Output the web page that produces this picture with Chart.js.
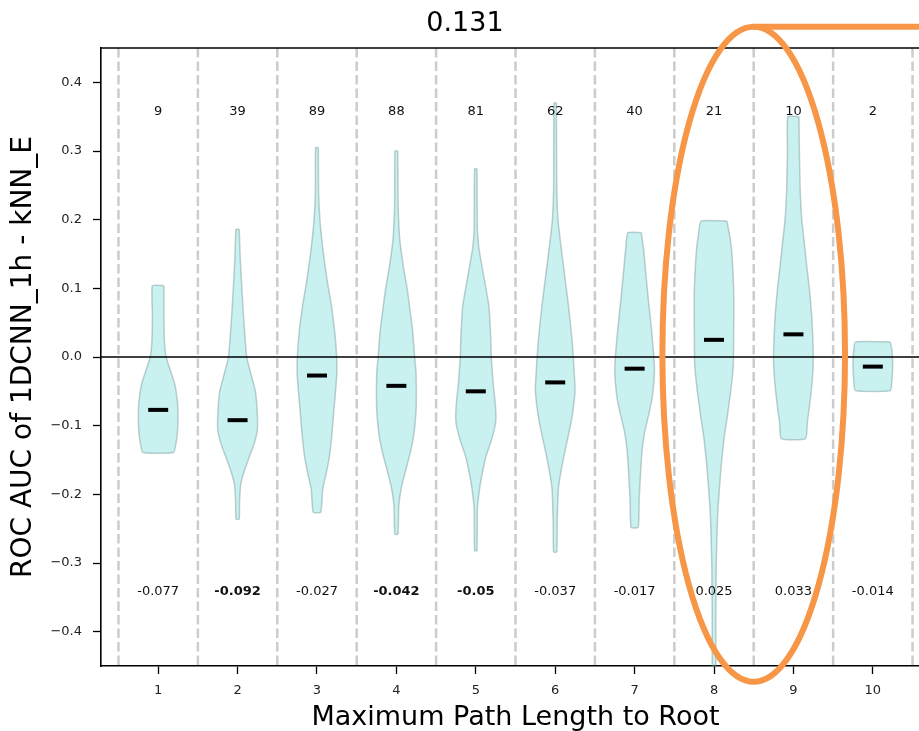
<!DOCTYPE html>
<html>
<head>
<meta charset="utf-8">
<script src="https://cdn.jsdelivr.net/npm/chart.js@4/dist/chart.umd.min.js"></script>
<style>
    html, body { margin: 0; padding: 0; background: #fff; overflow: hidden; }
    #wrap { width: 950px; height: 731px; }
</style>
</head>
<body>
<div id="wrap"><canvas id="violinChart" width="950" height="731"></canvas></div>
<script>
// Categories (max path length to root) and per-group numbers
const categories = [1, 2, 3, 4, 5, 6, 7, 8, 9, 10];
const counts = [9, 39, 89, 88, 81, 62, 40, 21, 10, 2];
const medians = [-0.077, -0.092, -0.027, -0.042, -0.050, -0.037, -0.017, 0.025, 0.033, -0.014];
const medianLabels = ['-0.077', '-0.092', '-0.027', '-0.042', '-0.05', '-0.037', '-0.017', '0.025', '0.033', '-0.014'];
const boldLabels = [false, true, false, true, true, false, false, false, false, false];
const yTicks = [-0.4, -0.3, -0.2, -0.1, 0.0, 0.1, 0.2, 0.3, 0.4];
const separators = [0.5, 1.5, 2.5, 3.5, 4.5, 5.5, 6.5, 7.5, 8.5, 9.5, 10.5];

// Violin outlines: [value, relative half width] read top to bottom
const violin1 = [[0.104, 0.29], [0.06, 0.29], [0.02, 0.32], [0.0, 0.40], [-0.02, 0.62], [-0.04, 0.84], [-0.065, 0.97], [-0.09, 1.0], [-0.11, 0.97], [-0.125, 0.9], [-0.139, 0.77]];
const violin2 = [[0.186, 0.08], [0.14, 0.14], [0.098, 0.22], [0.05, 0.32], [0.0, 0.46], [-0.03, 0.72], [-0.05, 0.9], [-0.08, 0.99], [-0.105, 1.0], [-0.125, 0.85], [-0.145, 0.6], [-0.165, 0.35], [-0.185, 0.16], [-0.21, 0.1], [-0.236, 0.08]];
const violin3 = [[0.305, 0.07], [0.24, 0.08], [0.195, 0.16], [0.147, 0.34], [0.11, 0.52], [0.074, 0.73], [0.035, 0.9], [0.0, 0.99], [-0.022, 1.0], [-0.045, 0.95], [-0.071, 0.87], [-0.11, 0.76], [-0.144, 0.63], [-0.17, 0.46], [-0.192, 0.29], [-0.226, 0.19]];
const violin4 = [[0.30, 0.07], [0.22, 0.09], [0.171, 0.17], [0.13, 0.36], [0.098, 0.55], [0.04, 0.81], [0.0, 0.92], [-0.023, 0.99], [-0.071, 1.0], [-0.1, 0.93], [-0.12, 0.84], [-0.145, 0.65], [-0.168, 0.44], [-0.19, 0.25], [-0.217, 0.12], [-0.258, 0.08]];
const violin5 = [[0.274, 0.06], [0.186, 0.08], [0.16, 0.15], [0.137, 0.28], [0.105, 0.48], [0.074, 0.66], [0.03, 0.75], [0.0, 0.78], [-0.04, 0.88], [-0.071, 0.99], [-0.095, 1.0], [-0.12, 0.8], [-0.144, 0.52], [-0.17, 0.32], [-0.192, 0.19], [-0.222, 0.08], [-0.282, 0.06]];
const violin6 = [[0.37, 0.06], [0.244, 0.08], [0.2, 0.14], [0.171, 0.25], [0.12, 0.47], [0.074, 0.67], [0.03, 0.83], [0.0, 0.91], [-0.047, 1.0], [-0.07, 0.93], [-0.095, 0.8], [-0.12, 0.62], [-0.144, 0.44], [-0.17, 0.27], [-0.192, 0.16], [-0.241, 0.1], [-0.284, 0.08]];
const violin7 = [[0.181, 0.34], [0.157, 0.45], [0.12, 0.57], [0.084, 0.69], [0.04, 0.85], [0.011, 0.94], [-0.018, 1.0], [-0.04, 0.96], [-0.062, 0.87], [-0.085, 0.7], [-0.11, 0.5], [-0.135, 0.38], [-0.159, 0.32], [-0.207, 0.23], [-0.248, 0.18]];
const violin8 = [[0.198, 0.65], [0.175, 0.8], [0.157, 0.88], [0.12, 0.96], [0.084, 1.0], [0.03, 0.99], [-0.013, 0.97], [-0.05, 0.84], [-0.086, 0.67], [-0.12, 0.5], [-0.159, 0.36], [-0.2, 0.25], [-0.231, 0.18], [-0.304, 0.11], [-0.38, 0.09], [-0.46, 0.08]];
const violin9 = [[0.35, 0.28], [0.3, 0.3], [0.244, 0.34], [0.2, 0.42], [0.171, 0.53], [0.13, 0.68], [0.098, 0.81], [0.06, 0.92], [0.026, 0.98], [-0.008, 1.0], [-0.04, 0.93], [-0.071, 0.81], [-0.095, 0.7], [-0.119, 0.61]];
const violin10 = [[0.022, 0.88], [0.01, 0.96], [-0.013, 1.0], [-0.035, 0.96], [-0.049, 0.88]];
const violins = [violin1, violin2, violin3, violin4, violin5, violin6, violin7, violin8, violin9, violin10];

const FONT = '"DejaVu Sans", sans-serif';
const HALF_WIDTH = 0.25;   // widest half of a violin, in x units
const VIOLIN_FILL = 'rgba(72, 209, 204, 0.3)';
const VIOLIN_EDGE = 'rgba(120, 150, 150, 0.45)';
const ORANGE = '#f79646';
// highlight ring around groups 8 and 9 (x, y centre and radii in data units)
const ring = { x: 8.5, y: 0.004, rx: 1.15, ry: 0.477 };

Chart.defaults.font.family = FONT;

function violinDataset(profile, cx) {
    const right = profile.map(([v, r]) => ({ x: cx + r * HALF_WIDTH, y: v }));
    const left = profile.slice().reverse().map(([v, r]) => ({ x: cx - r * HALF_WIDTH, y: v }));
    return {
        data: [...right, ...left, right[0]],
        showLine: true,
        fill: 'shape',
        backgroundColor: VIOLIN_FILL,
        borderColor: VIOLIN_EDGE,
        borderWidth: 1.5,
        pointRadius: 0,
        tension: 0.15,
        order: 1
    };
}

const datasets = violins.map((p, i) => violinDataset(p, categories[i]));
// median bars, drawn above the violins
datasets.push({
    data: medians.map((m, i) => ({ x: categories[i], y: m })),
    showLine: false,
    pointStyle: 'line',
    pointRadius: 10,
    pointBorderWidth: 4,
    pointBorderColor: '#000',
    pointBackgroundColor: '#000',
    order: 0
});

const decorPlugin = {
    id: 'decor',
    beforeDatasetsDraw(chart) {
        const { ctx, chartArea: a, scales: { x } } = chart;
        ctx.save();
        ctx.strokeStyle = '#cccccc';
        ctx.lineWidth = 2.5;
        ctx.setLineDash([9.5, 4]);
        separators.forEach(s => {
            const px = x.getPixelForValue(s);
            ctx.beginPath();
            ctx.moveTo(px, a.top);
            ctx.lineTo(px, a.bottom);
            ctx.stroke();
        });
        ctx.restore();
    },
    afterDatasetsDraw(chart) {
        const { ctx, chartArea: a, scales: { x, y } } = chart;
        ctx.save();
        // zero line and top spine
        ctx.strokeStyle = '#000';
        ctx.lineWidth = 1.6;
        const y0 = y.getPixelForValue(0);
        ctx.beginPath();
        ctx.moveTo(a.left, y0);
        ctx.lineTo(a.right, y0);
        ctx.moveTo(a.left, a.top);
        ctx.lineTo(a.right, a.top);
        ctx.stroke();

        // counts on top, medians at the bottom
        ctx.fillStyle = '#111';
        ctx.textAlign = 'center';
        ctx.textBaseline = 'middle';
        categories.forEach((c, i) => {
            const px = x.getPixelForValue(c);
            ctx.font = '13px ' + FONT;
            ctx.fillText(String(counts[i]), px, y.getPixelForValue(0.357));
            ctx.font = (boldLabels[i] ? 'bold ' : '') + '13px ' + FONT;
            ctx.fillText(medianLabels[i], px, y.getPixelForValue(-0.342));
        });
        ctx.restore();
    },
    afterDraw(chart) {
        const { ctx, scales: { x, y } } = chart;
        const cx = x.getPixelForValue(ring.x);
        const cy = y.getPixelForValue(ring.y);
        const rx = x.getPixelForValue(ring.x + ring.rx) - cx;
        const ry = cy - y.getPixelForValue(ring.y + ring.ry);
        ctx.save();
        ctx.strokeStyle = ORANGE;
        ctx.lineWidth = 6;
        ctx.beginPath();
        ctx.ellipse(cx, cy, rx, ry, 0, 0, Math.PI * 2);
        ctx.stroke();
        ctx.beginPath();
        ctx.moveTo(cx, cy - ry);
        ctx.lineTo(chart.width, cy - ry);
        ctx.stroke();
        ctx.restore();
    }
};

const ctx = document.getElementById('violinChart').getContext('2d');
new Chart(ctx, {
    type: 'scatter',
    data: { datasets: datasets },
    plugins: [decorPlugin],
    options: {
        responsive: false,
        animation: false,
        layout: { padding: { left: 0, right: 20, top: 0, bottom: 0 } },
        plugins: {
            legend: { display: false },
            tooltip: { enabled: false },
            title: {
                display: true,
                text: '0.131',
                color: '#000',
                font: { size: 27, weight: 'normal', lineHeight: 1 },
                padding: { top: 10.5, bottom: 10.5 }
            }
        },
        scales: {
            x: {
                type: 'linear',
                min: 0.28,
                max: 10.72,
                afterBuildTicks: s => { s.ticks = categories.map(v => ({ value: v })); },
                afterFit: s => { s.height = 65; },
                grid: { drawOnChartArea: false, tickLength: 8, tickColor: '#000', tickWidth: 1.3 },
                border: { color: '#000', width: 1.6 },
                ticks: {
                    color: '#222', padding: 9, maxRotation: 0, autoSkip: false,
                    font: { size: 13 },
                    callback: v => String(v)
                },
                title: {
                    display: true,
                    text: 'Maximum Path Length to Root',
                    color: '#000',
                    font: { size: 27, lineHeight: 1 },
                    padding: 0
                }
            },
            y: {
                type: 'linear',
                min: -0.45,
                max: 0.45,
                afterBuildTicks: s => { s.ticks = yTicks.map(v => ({ value: v })); },
                afterFit: s => { s.width = 101; },
                grid: { drawOnChartArea: false, tickLength: 8, tickColor: '#000', tickWidth: 1.3 },
                border: { color: '#000', width: 1.6 },
                ticks: {
                    color: '#222', padding: 11,
                    font: { size: 13 },
                    callback: v => (v < 0 ? '\u2212' : '') + Math.abs(v).toFixed(1)
                },
                title: {
                    display: true,
                    text: 'ROC AUC of 1DCNN_1h - kNN_E',
                    color: '#000',
                    font: { size: 28, lineHeight: 1 },
                    padding: { top: 10, bottom: 0 }
                }
            }
        }
    }
});
</script>
</body>
</html>
